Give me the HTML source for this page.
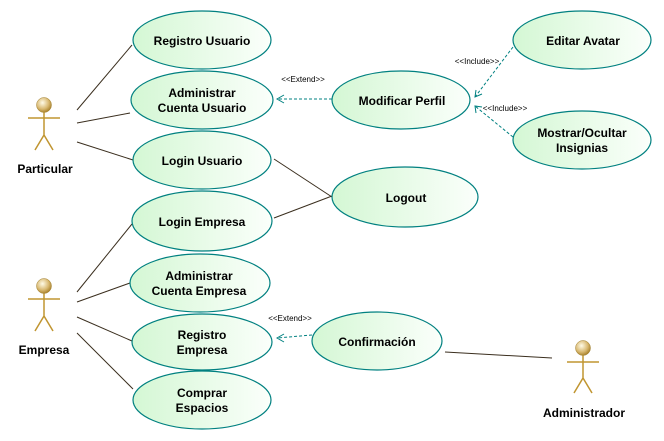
<!DOCTYPE html>
<html><head><meta charset="utf-8"><style>
html,body{margin:0;padding:0;background:#fff}
svg{display:block}
text{font-family:"Liberation Sans",Arial,sans-serif;font-weight:bold;font-size:12px;fill:#000;text-anchor:middle}
.s{font-size:8px;font-weight:normal}
.l{stroke:#3a2e1e;stroke-width:1;fill:none}
.d{stroke:#008080;stroke-width:1;fill:none;stroke-dasharray:3,2}
.e{fill:url(#g);stroke:#008080;stroke-width:1.2}
.a{stroke:#c09530;stroke-width:1.5;fill:none}
</style></head><body>
<svg width="664" height="441" viewBox="0 0 664 441" xmlns="http://www.w3.org/2000/svg">
<defs>
<linearGradient id="g" x1="0" x2="1" y1="0" y2="0"><stop offset="0" stop-color="#d4f7d4"/><stop offset="1" stop-color="#fbfffb"/></linearGradient>
<radialGradient id="h" cx="0.4" cy="0.35" r="0.7"><stop offset="0" stop-color="#fffbe8"/><stop offset="0.6" stop-color="#d8b870"/><stop offset="1" stop-color="#a07820"/></radialGradient>
</defs>
<!-- solid lines -->
<line class="l" x1="77" y1="110" x2="132" y2="45"/>
<line class="l" x1="77" y1="123" x2="130" y2="113"/>
<line class="l" x1="77" y1="142" x2="133" y2="160"/>
<line class="l" x1="274" y1="159" x2="332" y2="197"/>
<line class="l" x1="274" y1="218" x2="332" y2="196"/>
<line class="l" x1="77" y1="292" x2="132" y2="224"/>
<line class="l" x1="77" y1="302" x2="130" y2="283"/>
<line class="l" x1="77" y1="317" x2="132" y2="341"/>
<line class="l" x1="77" y1="333" x2="133" y2="389"/>
<line class="l" x1="445" y1="352" x2="552" y2="358"/>
<!-- dashed -->
<line class="d" x1="332" y1="99" x2="277" y2="99"/>
<path class="d" style="stroke-dasharray:none" d="M284,95 L277,99 L284,103"/>
<line class="d" x1="513" y1="47" x2="475" y2="97"/>
<path class="d" style="stroke-dasharray:none" d="M476,90 L475,97 L482,94"/>
<line class="d" x1="513" y1="137" x2="475" y2="106"/>
<path class="d" style="stroke-dasharray:none" d="M476,113 L475,106 L482,107"/>
<line class="d" x1="312" y1="335" x2="277" y2="338"/>
<path class="d" style="stroke-dasharray:none" d="M284,334 L277,338 L284,342"/>
<text class="s" x="303" y="82">&lt;&lt;Extend&gt;&gt;</text>
<text class="s" x="477" y="64">&lt;&lt;Include&gt;&gt;</text>
<text class="s" x="505" y="111">&lt;&lt;Include&gt;&gt;</text>
<text class="s" x="290" y="321">&lt;&lt;Extend&gt;&gt;</text>
<!-- ellipses -->
<ellipse class="e" cx="202" cy="40" rx="69" ry="29"/>
<ellipse class="e" cx="202" cy="100" rx="71" ry="29"/>
<ellipse class="e" cx="202" cy="160" rx="69" ry="29"/>
<ellipse class="e" cx="202" cy="221" rx="70" ry="30"/>
<ellipse class="e" cx="200" cy="283" rx="70" ry="29"/>
<ellipse class="e" cx="202" cy="342" rx="70" ry="28"/>
<ellipse class="e" cx="202" cy="400" rx="69" ry="29"/>
<ellipse class="e" cx="401" cy="100" rx="69" ry="29"/>
<ellipse class="e" cx="582" cy="40" rx="69" ry="29"/>
<ellipse class="e" cx="582" cy="140" rx="69" ry="29"/>
<ellipse class="e" cx="405" cy="197" rx="73" ry="30"/>
<ellipse class="e" cx="377" cy="341" rx="65" ry="29"/>
<text x="202" y="45">Registro Usuario</text>
<text x="202" y="97">Administrar</text><text x="202" y="112">Cuenta Usuario</text>
<text x="202" y="165">Login Usuario</text>
<text x="202" y="226">Login Empresa</text>
<text x="199" y="280">Administrar</text><text x="199" y="295">Cuenta Empresa</text>
<text x="202" y="339">Registro</text><text x="202" y="354">Empresa</text>
<text x="202" y="397">Comprar</text><text x="202" y="412">Espacios</text>
<text x="402" y="105">Modificar Perfil</text>
<text x="583" y="45">Editar Avatar</text>
<text x="582" y="137">Mostrar/Ocultar</text><text x="582" y="152">Insignias</text>
<text x="406" y="202">Logout</text>
<text x="377" y="346">Confirmación</text>
<!-- actors -->
<g transform="translate(44,105)">
<circle r="7.5" fill="url(#h)" stroke="#a08030" stroke-width="0.5"/>
<path class="a" d="M0,7.5 V30 M-16,13 H16 M0,30 L-9,45 M0,30 L9,45"/>
</g>
<text x="45" y="173">Particular</text>
<g transform="translate(44,286)">
<circle r="7.5" fill="url(#h)" stroke="#a08030" stroke-width="0.5"/>
<path class="a" d="M0,7.5 V30 M-16,13 H16 M0,30 L-9,45 M0,30 L9,45"/>
</g>
<text x="44" y="354">Empresa</text>
<g transform="translate(583,348)">
<circle r="7.5" fill="url(#h)" stroke="#a08030" stroke-width="0.5"/>
<path class="a" d="M0,7.5 V30 M-16,14 H16 M0,30 L-9,45 M0,30 L9,45"/>
</g>
<text x="584" y="417">Administrador</text>
</svg>
</body></html>
